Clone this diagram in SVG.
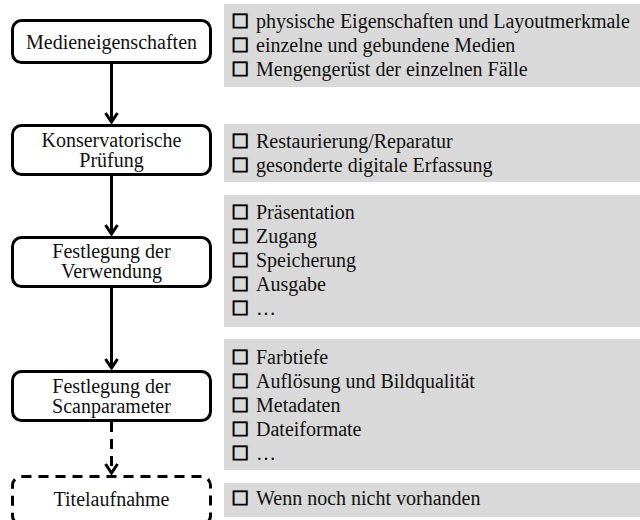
<svg xmlns="http://www.w3.org/2000/svg" width="640" height="520" viewBox="0 0 640 520">
<defs>
<marker id="arr" markerUnits="userSpaceOnUse" markerWidth="20" markerHeight="20" viewBox="-10 -12 20 20" refX="0" refY="0" orient="auto">
<path d="M-9,-6 L0,0 L-9,6" fill="none" stroke="#000" stroke-width="3" stroke-linejoin="miter"/>
</marker>
<style>
.node{fill:#fff;stroke:#000;stroke-width:3}
.dash{stroke-dasharray:10 7}
.nt{font-size:20px;fill:#111;text-anchor:middle}
.panel{fill:#d9d9d9}
.lt{font-size:20px;fill:#111}
.cb{font-size:24px;font-weight:bold;fill:#000;stroke:#000;stroke-width:0.9}
.con{stroke:#000;stroke-width:3;fill:none;marker-end:url(#arr)}
</style>
</defs>
<g id="panels" font-family="'Liberation Serif', 'Times New Roman', 'DejaVu Serif', serif">
<g id="panel1">
<rect class="panel" x="224" y="4" width="416" height="83"/>
<text class="lt" x="233" y="28"><tspan class="cb">□</tspan><tspan x="256">physische Eigenschaften und Layoutmerkmale</tspan></text>
<text class="lt" x="233" y="52"><tspan class="cb">□</tspan><tspan x="256">einzelne und gebundene Medien</tspan></text>
<text class="lt" x="233" y="76"><tspan class="cb">□</tspan><tspan x="256">Mengengerüst der einzelnen Fälle</tspan></text>
</g>
<g id="panel2">
<rect class="panel" x="224" y="124" width="416" height="58"/>
<text class="lt" x="233" y="148"><tspan class="cb">□</tspan><tspan x="256">Restaurierung/Reparatur</tspan></text>
<text class="lt" x="233" y="172"><tspan class="cb">□</tspan><tspan x="256">gesonderte digitale Erfassung</tspan></text>
</g>
<g id="panel3">
<rect class="panel" x="224" y="195" width="416" height="132"/>
<text class="lt" x="233" y="219"><tspan class="cb">□</tspan><tspan x="256">Präsentation</tspan></text>
<text class="lt" x="233" y="243"><tspan class="cb">□</tspan><tspan x="256">Zugang</tspan></text>
<text class="lt" x="233" y="267"><tspan class="cb">□</tspan><tspan x="256">Speicherung</tspan></text>
<text class="lt" x="233" y="291"><tspan class="cb">□</tspan><tspan x="256">Ausgabe</tspan></text>
<text class="lt" x="233" y="315"><tspan class="cb">□</tspan><tspan x="256">…</tspan></text>
</g>
<g id="panel4">
<rect class="panel" x="224" y="339" width="416" height="131"/>
<text class="lt" x="233" y="364"><tspan class="cb">□</tspan><tspan x="256">Farbtiefe</tspan></text>
<text class="lt" x="233" y="388"><tspan class="cb">□</tspan><tspan x="256">Auflösung und Bildqualität</tspan></text>
<text class="lt" x="233" y="412"><tspan class="cb">□</tspan><tspan x="256">Metadaten</tspan></text>
<text class="lt" x="233" y="436"><tspan class="cb">□</tspan><tspan x="256">Dateiformate</tspan></text>
<text class="lt" x="233" y="460"><tspan class="cb">□</tspan><tspan x="256">…</tspan></text>
</g>
<g id="panel5">
<rect class="panel" x="224" y="483" width="416" height="34"/>
<text class="lt" x="233" y="505"><tspan class="cb">□</tspan><tspan x="256">Wenn noch nicht vorhanden</tspan></text>
</g>
</g>
<g id="connectors">
<line class="con" x1="111.5" y1="64" x2="111.5" y2="122"/>
<line class="con" x1="111.5" y1="176" x2="111.5" y2="234"/>
<line class="con" x1="111.5" y1="288" x2="111.5" y2="368"/>
<line class="con dash" x1="111.5" y1="422" x2="111.5" y2="473"/>
</g>
<g id="nodes" font-family="'Liberation Serif', 'Times New Roman', 'DejaVu Serif', serif">
<g id="n1">
<rect class="node" x="12.5" y="20.5" width="198" height="42" rx="9"/>
<text class="nt" x="111.5" y="48.5">Medieneigenschaften</text>
</g>
<g id="n2">
<rect class="node" x="12.5" y="125.5" width="198" height="49" rx="9"/>
<text class="nt" x="111.5" y="147">Konservatorische</text>
<text class="nt" x="111.5" y="167">Prüfung</text>
</g>
<g id="n3">
<rect class="node" x="12.5" y="237.5" width="198" height="49" rx="9"/>
<text class="nt" x="111.5" y="258">Festlegung der</text>
<text class="nt" x="111.5" y="278">Verwendung</text>
</g>
<g id="n4">
<rect class="node" x="12.5" y="371.5" width="198" height="49" rx="9"/>
<text class="nt" x="111.5" y="393">Festlegung der</text>
<text class="nt" x="111.5" y="413">Scanparameter</text>
</g>
<g id="n5">
<rect class="node dash" x="12.5" y="476.5" width="198" height="48" rx="9"/>
<text class="nt" x="111.5" y="506">Titelaufnahme</text>
</g>
</g>
</svg>
